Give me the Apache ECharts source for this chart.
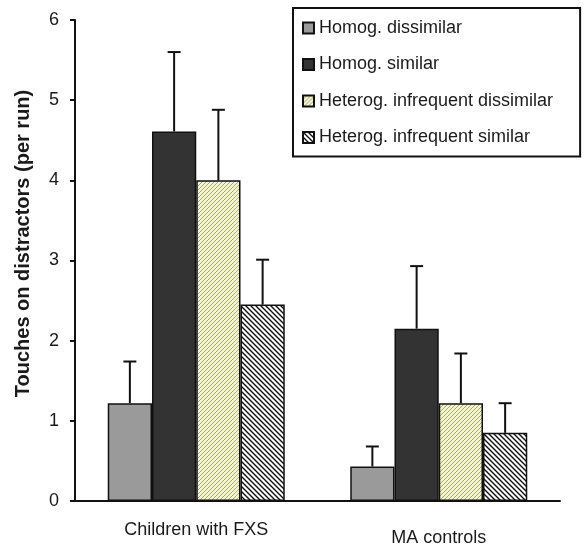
<!DOCTYPE html>
<html>
<head>
<meta charset="utf-8">
<script src="https://cdn.jsdelivr.net/npm/echarts@6/dist/echarts.min.js"></script>
<style>
html, body { margin: 0; padding: 0; background: #fff; }
#chart { width: 584px; height: 547px; }
</style>
</head>
<body>
<div id="chart"></div>
<script>
var categories = ['Children with FXS', 'MA controls'];
var seriesNames = ['Homog. dissimilar', 'Homog. similar', 'Heterog. infrequent dissimilar', 'Heterog. infrequent similar'];
var homogDissimilar = [1.22, 0.43];
var homogSimilar = [4.61, 2.15];
var heteroDissimilar = [4.0, 1.22];
var heteroSimilar = [2.45, 0.85];
// upper end of the error bars
var homogDissimilarErr = [1.74, 0.68];
var homogSimilarErr = [5.6, 2.93];
var heteroDissimilarErr = [4.88, 1.84];
var heteroSimilarErr = [3.01, 1.22];
var yTicks = [0, 1, 2, 3, 4, 5, 6];

function hatch(size, bg, fg, lw, dir) {
    var c = document.createElement('canvas');
    c.width = size; c.height = size;
    var ctx = c.getContext('2d');
    ctx.fillStyle = bg;
    ctx.fillRect(0, 0, size, size);
    ctx.strokeStyle = fg;
    ctx.lineWidth = lw;
    ctx.beginPath();
    if (dir === '/') {
        ctx.moveTo(-1, size + 1); ctx.lineTo(size + 1, -1);
        ctx.moveTo(-1, 1); ctx.lineTo(1, -1);
        ctx.moveTo(size - 1, size + 1); ctx.lineTo(size + 1, size - 1);
    } else {
        ctx.moveTo(-1, -1); ctx.lineTo(size + 1, size + 1);
        ctx.moveTo(size - 1, -1); ctx.lineTo(size + 1, 1);
        ctx.moveTo(-1, size - 1); ctx.lineTo(1, size + 1);
    }
    ctx.stroke();
    return c;
}

var fills = [
    '#9a9a9a',
    '#333333',
    { image: hatch(4, '#f6f6c8', '#a0a0a0', 1, '/'), repeat: 'repeat' },
    { image: hatch(5, '#ffffff', '#111111', 1.4, '\\'), repeat: 'repeat' }
];
var values = [homogDissimilar, homogSimilar, heteroDissimilar, heteroSimilar];
var errs = [homogDissimilarErr, homogSimilarErr, heteroDissimilarErr, heteroSimilarErr];
var gapPct = 27;

var chart = echarts.init(document.getElementById('chart'));
var series = [];
seriesNames.forEach(function (name, i) {
    series.push({
        name: name,
        type: 'bar',
        data: values[i],
        barGap: '0%',
        barCategoryGap: gapPct + '%',
        itemStyle: { color: fills[i], borderColor: '#111', borderWidth: 1.5 },
        z: 2
    });
});
seriesNames.forEach(function (name, i) {
    series.push({
        name: name + ' err',
        type: 'custom',
        z: 3,
        data: values[i].map(function (v, k) { return [k, v, errs[i][k]]; }),
        renderItem: function (params, api) {
            var catW = api.size([1, 0])[0];
            var barW = catW * (1 - gapPct / 100) / 4;
            var base = api.coord([api.value(0), api.value(1)]);
            var top = api.coord([api.value(0), api.value(2)]);
            var x = base[0] + (i - 1.5) * barW;
            var style = { stroke: '#111', lineWidth: 2 };
            return {
                type: 'group',
                children: [
                    { type: 'line', shape: { x1: x, y1: base[1], x2: x, y2: top[1] }, style: style },
                    { type: 'line', shape: { x1: x - 6.5, y1: top[1], x2: x + 6.5, y2: top[1] }, style: style }
                ]
            };
        }
    });
});

chart.setOption({
    animation: false,
    textStyle: { fontFamily: 'Liberation Sans, Arial, sans-serif' },
    grid: { left: 75, right: 24, top: 20, bottom: 44 },
    legend: {
        data: seriesNames,
        orient: 'vertical',
        left: 293,
        top: 8,
        icon: 'rect',
        itemWidth: 11,
        itemHeight: 11,
        itemGap: 18.5,
        borderColor: '#111',
        borderWidth: 2,
        padding: [11, 27, 10, 9],
        textStyle: { fontSize: 18, color: '#1a1a1a', padding: [0, 0, 0, 0] }
    },
    xAxis: {
        type: 'category',
        data: categories,
        axisLine: { lineStyle: { color: '#111', width: 2 } },
        axisTick: { length: 6, lineStyle: { color: '#111', width: 2 } },
        axisLabel: {
            margin: 20,
            color: '#1a1a1a',
            formatter: function (v, i) { return i === 1 ? '{b|' + v + '}' : '{a|' + v + '}'; },
            rich: {
                a: { fontSize: 18, color: '#1a1a1a' },
                b: { fontSize: 18, color: '#1a1a1a', padding: [8, 0, 0, 0] }
            }
        }
    },
    yAxis: {
        type: 'value',
        min: yTicks[0],
        max: yTicks[yTicks.length - 1],
        interval: 1,
        name: 'Touches on distractors (per run)',
        nameLocation: 'middle',
        nameGap: 42,
        nameTextStyle: { fontSize: 20, fontWeight: 'bold', color: '#1a1a1a', padding: [0, 0, 0, 34] },
        axisLine: { show: true, lineStyle: { color: '#111', width: 2 } },
        axisTick: { show: true, length: 5, lineStyle: { color: '#111', width: 2 } },
        axisLabel: { fontSize: 18, color: '#1a1a1a', margin: 16 },
        splitLine: { show: false }
    },
    series: series
});
</script>
</body>
</html>
